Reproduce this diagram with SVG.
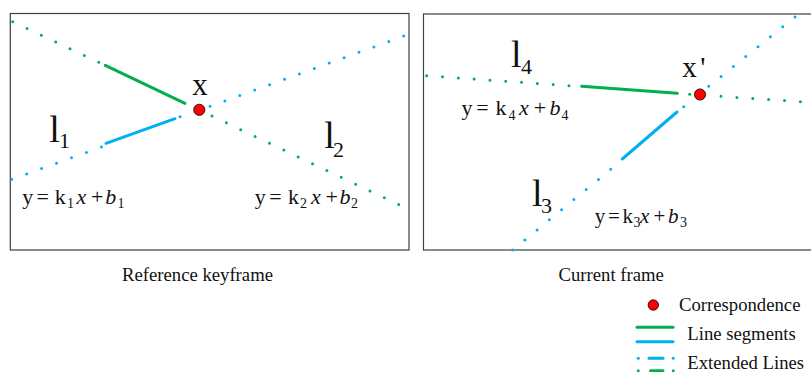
<svg xmlns="http://www.w3.org/2000/svg" width="811" height="372" viewBox="0 0 811 372">
<defs>
<style>
text{font-family:"Liberation Serif","Times New Roman",serif;fill:#111}
.frame{fill:none;stroke:#404040;stroke-width:1.2}
.dg{fill:none;stroke:#00B050;stroke-width:3;stroke-linecap:round;stroke-dasharray:0 1}
.db{fill:none;stroke:#00B0F0;stroke-width:3;stroke-linecap:round;stroke-dasharray:0 1}
.sg{fill:none;stroke:#00B050;stroke-width:3;stroke-linecap:round}
.sb{fill:none;stroke:#00B0F0;stroke-width:3;stroke-linecap:round}
.pg{fill:#00B050}
.pb{fill:#00B0F0}
.corr{fill:#FF0000;stroke:#000;stroke-width:0.8}
.lbl{font-size:38px}
.sub{font-size:22px}
.pt{font-size:31px}
.eq{font-size:22px}
.es{font-size:14px}
.it{font-style:italic}
.cap{font-size:18.7px}
.leg{font-size:18.7px}
</style>
</defs>

<g id="frame-reference">
<rect class="frame" x="10.3" y="13.5" width="398.7" height="236.5"/>
</g>
<g id="frame-current">
<rect class="frame" x="423.5" y="14" width="400" height="236"/>
</g>

<g id="connectors">
<!-- reference keyframe -->
<path class="dg" d="M12.7,21.7 L99,62.3" pathLength="6.02"/>
<path class="sg" d="M105.3,65.3 L185,103.3"/>
<path class="dg" d="M212,116 L399,204.7" pathLength="13.02"/>
<path class="db" d="M11.7,179.3 L101.7,147" pathLength="6.02"/>
<path class="sb" d="M106,143.3 L175,118.7"/>
<circle class="pb" cx="180" cy="116.7" r="1.5"/>
<path class="db" d="M210,106.3 L404,36" pathLength="13.02"/>
<!-- current frame -->
<path class="dg" d="M426.7,75.7 L569.3,85.7" pathLength="9.02"/>
<path class="sg" d="M581.7,86.3 L677.3,93.3"/>
<circle class="pg" cx="689.7" cy="94.3" r="1.5"/>
<path class="dg" d="M721,96.3 L800.7,101.7" pathLength="5.02"/>
<path class="db" d="M708.7,86.3 L795.3,16.7" pathLength="7.02"/>
<circle class="pb" cx="683.7" cy="106.7" r="1.5"/>
<path class="sb" d="M677,112 L622.3,159"/>
<path class="db" d="M610.7,169.3 L512.3,250.3" pathLength="8.02"/>
</g>

<g id="point-x">
<circle class="corr" cx="199.3" cy="109.8" r="5.6"/>
<text class="pt" x="192.2" y="95">x</text>
</g>
<g id="point-x-prime">
<circle class="corr" cx="700" cy="94.5" r="5.6"/>
<text class="pt" x="682.2" y="77.3" style="font-size:29px">x<tspan x="700.3">'</tspan></text>
</g>

<g id="line-l1">
<text x="49.3" y="141.7"><tspan class="lbl">l</tspan><tspan class="sub" x="59" y="148">1</tspan></text>
<text class="eq" y="203.5"><tspan x="22.3">y</tspan><tspan x="36.6">=</tspan><tspan x="54.8">k</tspan><tspan class="es" x="67" y="207.5">1</tspan><tspan class="it" x="76.5" y="203.5">x</tspan><tspan x="91">+</tspan><tspan class="it" x="105.3">b</tspan><tspan class="es" x="117.5" y="207.5">1</tspan></text>
</g>
<g id="line-l2">
<text x="324.3" y="148.3"><tspan class="lbl">l</tspan><tspan class="sub" x="333" y="156.7">2</tspan></text>
<text class="eq" y="203.5"><tspan x="254.8">y</tspan><tspan x="269.3">=</tspan><tspan x="288">k</tspan><tspan class="es" x="300" y="207.5">2</tspan><tspan class="it" x="311" y="203.5">x</tspan><tspan x="325.5">+</tspan><tspan class="it" x="339.5">b</tspan><tspan class="es" x="351" y="207.5">2</tspan></text>
</g>
<g id="line-l4">
<text x="511" y="66.7"><tspan class="lbl">l</tspan><tspan class="sub" x="521" y="74">4</tspan></text>
<text class="eq" y="115"><tspan x="461.4">y</tspan><tspan x="476.2">=</tspan><tspan x="495.5">k</tspan><tspan class="es" x="508.5" y="120">4</tspan><tspan class="it" x="519" y="115">x</tspan><tspan x="533.7">+</tspan><tspan class="it" x="549.5">b</tspan><tspan class="es" x="561.5" y="120">4</tspan></text>
</g>
<g id="line-l3">
<text x="532" y="206"><tspan class="lbl">l</tspan><tspan class="sub" x="541" y="213.3">3</tspan></text>
<text class="eq" y="223" style="font-size:21px"><tspan x="594.8">y</tspan><tspan x="608">=</tspan><tspan x="622.5">k</tspan><tspan class="es" x="633.5" y="227">3</tspan><tspan class="it" x="640" y="223">x</tspan><tspan x="653.5">+</tspan><tspan class="it" x="668">b</tspan><tspan class="es" x="680" y="227">3</tspan></text>
</g>

<g id="caption-reference">
<text class="cap" x="197.5" y="281" text-anchor="middle">Reference keyframe</text>
</g>
<g id="caption-current">
<text class="cap" x="611.2" y="281" text-anchor="middle">Current frame</text>
</g>

<g id="legend">
<circle class="corr" cx="653.3" cy="305" r="5.2"/>
<text class="leg" x="679" y="311">Correspondence</text>
<line class="sg" x1="637" y1="327.3" x2="673" y2="327.3"/>
<line class="sb" x1="637" y1="341.7" x2="673" y2="341.7"/>
<text class="leg" x="687.3" y="340">Line segments</text>
<circle class="pb" cx="638.3" cy="358.3" r="1.5"/>
<line class="sb" x1="649" y1="358.3" x2="663" y2="358.3"/>
<circle class="pb" cx="673.3" cy="358.3" r="1.5"/>
<circle class="pg" cx="638.3" cy="370.7" r="1.5"/>
<line class="sg" x1="650.5" y1="370.7" x2="663" y2="370.7"/>
<circle class="pg" cx="673.3" cy="370.7" r="1.5"/>
<text class="leg" x="687.3" y="368.5">Extended Lines</text>
</g>
</svg>
